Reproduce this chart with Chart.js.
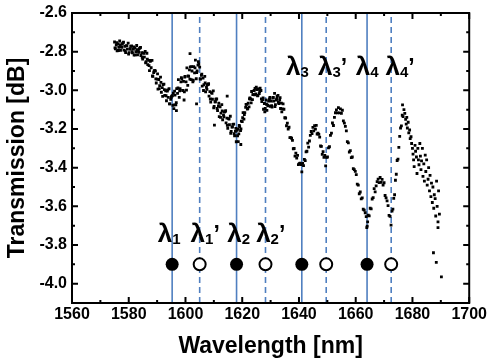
<!DOCTYPE html>
<html>
<head>
<meta charset="utf-8">
<script src="https://cdn.jsdelivr.net/npm/chart.js@4.4.1/dist/chart.umd.min.js"></script>
<style>
  html, body { margin: 0; padding: 0; background: #fff; }
</style>
</head>
<body>
<canvas id="chart" width="491" height="361"></canvas>
<script>
var wlA = [1575.0,1575.3,1575.6,1575.9,1576.2,1576.5,1576.8,1577.1,1577.4,1577.7,
  1578.0,1578.3,1578.6,1578.9,1579.2,1579.5,1579.8,1580.1,1580.4,1580.7,
  1581.0,1581.3,1581.6,1581.9,1582.2,1582.5,1582.8,1583.1,1583.4,1583.7,
  1584.0,1584.3,1584.6,1584.9,1585.2,1585.5,1585.8,1586.1];
var trA = [-2.750,-2.785,-2.766,-2.796,-2.760,-2.777,-2.745,-2.793,-2.774,-2.759,
  -2.755,-2.792,-2.773,-2.805,-2.769,-2.787,-2.756,-2.805,-2.787,-2.773,
  -2.770,-2.806,-2.787,-2.818,-2.782,-2.800,-2.768,-2.817,-2.798,-2.784,
  -2.780,-2.820,-2.805,-2.839,-2.806,-2.828,-2.799,-2.852];

var wlB = [1586.4,1586.7,1587.0,1587.3,1587.6,1587.9,1588.2,1588.5,1588.8,1589.1,
  1589.4,1589.7,1590.0,1590.3,1590.6,1590.9,1591.2,1591.5,1591.8,1592.1,
  1592.4,1592.7,1593.0,1593.3,1593.6,1593.9,1594.2,1594.5,1594.8,1595.1,
  1595.4];
var trB = [-2.808,-2.867,-2.845,-2.898,-2.850,-2.883,-2.845,-2.928,-2.908,-2.897,
  -2.899,-2.962,-2.942,-2.994,-2.944,-2.976,-2.932,-3.010,-2.986,-2.970,
  -2.968,-3.026,-3.002,-3.054,-3.004,-3.036,-2.992,-3.070,-3.046,-3.030,
  -3.028];

var wlC = [1595.7,1596.0,1596.3,1596.6,1596.9,1597.2,1597.5,1597.8,1598.1,1598.4,
  1598.7,1599.0,1599.3,1599.6,1599.9,1600.2,1600.5,1600.8,1601.1,1601.4,
  1601.7,1602.0,1602.3,1602.6,1602.9,1603.2,1603.5,1603.8,1604.1,1604.4,
  1604.7,1601.6,1603.9,1599.5,1595.9,1596.8];
var trC = [-3.015,-3.075,-3.025,-3.075,-2.991,-3.016,-2.945,-3.036,-2.991,-2.956,
  -2.941,-3.000,-2.954,-3.008,-2.928,-2.956,-2.884,-2.974,-2.928,-2.894,
  -2.879,-2.945,-2.900,-2.956,-2.877,-2.910,-2.844,-2.940,-2.900,-2.870,
  -2.865,-2.810,-3.070,-3.050,-3.095,-3.105];

var wlD = [1605.0,1605.3,1605.6,1605.9,1606.2,1606.5,1606.8,1607.1,1607.4,1607.7,
  1608.0,1608.3,1608.6,1608.9,1609.2,1609.5,1609.8,1610.1,1610.4,1610.7,
  1611.0,1611.3,1611.6,1611.9,1612.2,1612.5,1612.8,1613.1,1613.4,1613.7,
  1614.0,1614.3,1614.6,1614.9,1615.2,1615.5,1615.8,1616.1,1616.4,1616.7,
  1617.0,1617.3,1617.6,1617.9,1618.2,1614.7,1610.2];
var trD = [-2.880,-2.942,-2.922,-2.978,-2.937,-2.971,-2.928,-3.008,-2.985,-2.971,
  -2.970,-3.030,-3.007,-3.061,-3.012,-3.046,-3.003,-3.083,-3.060,-3.046,
  -3.045,-3.105,-3.082,-3.136,-3.086,-3.118,-3.074,-3.152,-3.128,-3.112,
  -3.110,-3.168,-3.144,-3.196,-3.146,-3.178,-3.134,-3.213,-3.190,-3.176,
  -3.175,-3.235,-3.212,-3.266,-3.207,-3.030,-3.180];

var wlE = [1618.5,1618.8,1619.1,1619.4,1619.7,1620.0,1620.3,1620.6,1620.9,1621.2,
  1621.5,1621.8,1622.1,1622.4,1622.7,1623.0,1623.3,1623.6,1623.9,1624.2,
  1624.5,1624.8,1625.1,1625.4,1625.7,1626.0,1626.3,1618.6,1619.5];
var trE = [-3.200,-3.225,-3.188,-3.208,-3.159,-3.162,-3.115,-3.149,-3.115,-3.088,
  -3.073,-3.097,-3.067,-3.086,-3.039,-3.045,-3.006,-3.048,-3.022,-3.001,
  -2.990,-3.019,-2.996,-3.028,-2.993,-3.017,-2.989,-3.265,-3.280];

var wlF = [1626.6,1626.9,1627.2,1627.5,1627.8,1628.1,1628.4,1628.7,1629.0,1629.3,
  1629.6,1629.9,1630.2,1630.5,1630.8,1631.1,1631.4,1631.7,1632.0,1632.3,
  1632.6,1632.9,1633.2,1633.5,1633.8,1634.1,1634.4];
var trF = [-3.001,-3.058,-3.048,-3.098,-3.068,-3.094,-3.050,-3.104,-3.077,-3.055,
  -3.045,-3.083,-3.055,-3.087,-3.039,-3.056,-3.016,-3.074,-3.050,-3.032,
  -3.026,-3.068,-3.050,-3.094,-3.066,-3.096,-3.070];

var wlG = [1634.7,1635.0,1635.3,1635.6,1635.9,1636.2,1636.5,1636.8,1637.1,1637.4,
  1637.7,1638.0,1638.3,1638.6,1638.9,1639.2,1639.5,1639.8,1640.1,1640.4,
  1640.7,1641.0];
var trG = [-3.098,-3.142,-3.143,-3.183,-3.170,-3.200,-3.191,-3.245,-3.245,-3.248,
  -3.259,-3.302,-3.301,-3.340,-3.325,-3.351,-3.336,-3.384,-3.379,-3.377,
  -3.384,-3.422];

var wlH = [1641.3,1641.6,1641.9,1642.2,1642.5,1642.8,1643.1,1643.4,1643.7,1644.0,
  1644.3,1644.6,1644.9,1645.2,1645.5,1645.8,1646.1,1646.4,1646.7,1647.0,
  1647.3,1647.6,1647.9,1648.2,1648.5,1648.8,1649.1,1649.4];
var trH = [-3.378,-3.389,-3.357,-3.364,-3.318,-3.315,-3.273,-3.294,-3.262,-3.233,
  -3.213,-3.224,-3.192,-3.210,-3.183,-3.201,-3.181,-3.226,-3.222,-3.228,
  -3.242,-3.288,-3.290,-3.331,-3.317,-3.347,-3.337,-3.391];

var wlI = [1649.7,1650.05,1650.4,1650.75,1651.1,1651.45,1651.8,1652.15,1652.5,1652.85,
  1653.2,1653.55,1653.9,1654.25,1654.6,1654.95,1655.3,1655.65,1656.0,1656.35,
  1656.7,1657.05,1657.4,1657.75,1658.1,1658.45,1658.8,1659.15,1659.5,1659.85,
  1660.2,1660.55,1660.9,1661.25,1661.6,1661.95,1662.3,1662.65,1663.0,1663.35,
  1663.7,1664.05,1663.9,1664.2];
var trI = [-3.347,-3.345,-3.298,-3.292,-3.233,-3.221,-3.169,-3.182,-3.140,-3.116,
  -3.101,-3.117,-3.089,-3.117,-3.096,-3.119,-3.103,-3.158,-3.170,-3.186,
  -3.210,-3.265,-3.272,-3.319,-3.312,-3.348,-3.345,-3.405,-3.410,-3.419,
  -3.436,-3.485,-3.490,-3.535,-3.526,-3.561,-3.556,-3.615,-3.620,-3.633,
  -3.653,-3.702,-3.710,-3.680];

var wlJ = [1664.4,1664.75,1665.1,1665.45,1665.8,1666.15,1666.5,1666.85,1667.2,1667.55,
  1667.9,1668.25,1668.6,1668.95,1669.3,1669.65,1670.0,1670.35,1670.7,1671.05,
  1671.4,1671.75,1672.1,1672.45];
var trJ = [-3.646,-3.649,-3.610,-3.613,-3.562,-3.555,-3.508,-3.525,-3.494,-3.472,
  -3.459,-3.477,-3.451,-3.476,-3.461,-3.490,-3.478,-3.544,-3.556,-3.572,
  -3.596,-3.647,-3.652,-3.697];

var wlK = [1672.8,1673.1,1673.4,1673.7,1674.0,1674.3,1674.6,1674.9,1675.2,1675.5,
  1675.8,1676.1,1676.4,1676.7,1677.0,1677.3,1676.5];
var trK = [-3.625,-3.614,-3.559,-3.540,-3.465,-3.434,-3.363,-3.356,-3.295,-3.238,
  -3.195,-3.184,-3.129,-3.136,-3.100,-3.119,-3.075];

var wlL = [1677.6,1677.8,1678.0,1678.2,1678.5,1678.7,1679.0,1679.2,1679.5,1679.7,
  1680.0,1680.2,1680.4,1680.6,1680.9,1681.1,1681.4,1681.6,1681.9,1682.1,
  1682.3,1682.6,1682.8,1683.0,1683.2,1683.5,1683.7,1684.0,1684.2,1684.5,
  1684.7,1685.0,1685.2,1685.5,1685.7,1686.0,1686.2,1686.5,1686.7,1687.0,
  1687.2,1687.5,1687.7,1688.0,1688.2,1688.5,1688.7,1689.0,1689.2,1689.5,
  1689.0,1687.4,1688.4,1690.2];
var trL = [-3.150,-3.175,-3.140,-3.195,-3.165,-3.220,-3.205,-3.250,-3.240,-3.275,
  -3.300,-3.330,-3.360,-3.395,-3.285,-3.315,-3.345,-3.430,-3.300,-3.360,
  -3.385,-3.275,-3.340,-3.410,-3.365,-3.300,-3.445,-3.380,-3.470,-3.335,
  -3.420,-3.360,-3.490,-3.460,-3.400,-3.520,-3.440,-3.550,-3.480,-3.580,
  -3.500,-3.610,-3.540,-3.560,-3.650,-3.470,-3.600,-3.680,-3.520,-3.640,
  -3.710,-3.840,-3.890,-3.965];

// extra points in the dense band 1575-1634 nm
var wlM = [1575.15,1575.75,1576.35,1576.95,1577.55,1578.15,1578.75,1579.35,1579.95,1580.55,
  1581.15,1581.75,1582.35,1582.95,1583.55,1584.15,1584.75,1585.35,1585.95,1586.55,
  1587.15,1587.75,1588.35,1588.95,1589.55,1590.15,1590.75,1591.35,1591.95,1592.55,
  1593.15,1593.75,1594.35,1594.95,
  1595.55,1596.15,1596.75,1597.35,1597.95,1598.55,1599.15,1599.75,1600.35,1600.95,
  1601.55,1602.15,1602.75,1603.35,1603.95,1604.55];
var trM = [-2.780,-2.753,-2.794,-2.765,-2.778,-2.751,-2.796,-2.770,-2.813,-2.785,
  -2.800,-2.775,-2.817,-2.789,-2.803,-2.778,-2.829,-2.809,-2.858,-2.839,
  -2.872,-2.845,-2.926,-2.902,-2.941,-2.915,-2.991,-2.959,-3.031,-2.996,
  -3.028,-2.998,-3.070,-3.037,
  -3.078,-3.004,-3.064,-2.988,-3.002,-2.934,-3.001,-2.931,-2.999,-2.925,
  -2.942,-2.877,-2.948,-2.884,-2.908,-2.852];

var wlN = [1605.15,1605.75,1606.35,1606.95,1607.55,1608.15,1608.75,1609.35,1609.95,1610.55,
  1611.15,1611.75,1612.35,1612.95,1613.55,1614.15,1614.75,1615.35,1615.95,1616.55,
  1617.15,1617.75,
  1618.35,1618.95,1619.55,1620.15,1620.75,1621.35,1621.95,1622.55,1623.15,1623.75,
  1624.35,1624.95,1625.55,1626.15,
  1626.75,1627.35,1627.95,1628.55,1629.15,1629.75,1630.35,1630.95,1631.55,1632.15,
  1632.75,1633.35,1633.95];
var trN = [-2.941,-2.917,-3.001,-2.962,-2.995,-2.966,-3.045,-3.016,-3.091,-3.059,
  -3.094,-3.067,-3.140,-3.107,-3.137,-3.105,-3.181,-3.149,-3.222,-3.189,
  -3.224,-3.197,
  -3.235,-3.182,-3.199,-3.142,-3.126,-3.073,-3.094,-3.044,-3.065,-3.022,
  -3.023,-2.984,-3.026,-3.006,
  -3.044,-3.039,-3.111,-3.072,-3.080,-3.037,-3.079,-3.037,-3.084,-3.046,
  -3.062,-3.038,-3.111];

// resonance positions (solid lines / filled dots and dashed lines / open dots)
var resonance = [1595.3, 1618.0, 1641.0, 1664.0];
var resonancePrime = [1605.0, 1628.2, 1649.6, 1672.5];
var markerLevel = -3.9;

// lambda labels: left edge (nm), baseline (dB), subscript, prime
var labelX = [1590.2, 1601.8, 1614.7, 1624.9, 1635.4, 1646.7, 1660.0, 1670.5];
var labelY = [-3.785, -3.785, -3.785, -3.785, -2.92, -2.92, -2.92, -2.92];
var labelSub = ["1", "1", "2", "2", "3", "3", "4", "4"];
var labelPrime = [false, true, false, true, false, true, false, true];

// axes
var xTicks = [1560, 1580, 1600, 1620, 1640, 1660, 1680, 1700];
var xMinor = [1570, 1590, 1610, 1630, 1650, 1670, 1690];
var yTicks = [-4.0, -3.8, -3.6, -3.4, -3.2, -3.0, -2.8, -2.6];
var yMinor = [-3.9, -3.7, -3.5, -3.3, -3.1, -2.9, -2.7];
var xMin = 1560, xMax = 1700, yMin = -4.1, yMax = -2.6;

var FONT = "'Liberation Sans', Arial, sans-serif";
var BLUE = "#4f7fc0";

var wavelength = [].concat(wlA, wlB, wlC, wlD, wlE, wlF, wlG, wlH, wlI, wlJ, wlK, wlL, wlM, wlN);
var transmission = [].concat(trA, trB, trC, trD, trE, trF, trG, trH, trI, trJ, trK, trL, trM, trN);

var spectrum = wavelength.map(function (w, i) {
  return { x: w, y: transmission[i] };
});

// vertical guide lines
var guideSets = [];
resonance.forEach(function (w) {
  guideSets.push({
    data: [{ x: w, y: yMin }, { x: w, y: yMax }],
    showLine: true, borderColor: BLUE, borderWidth: 1.6,
    pointRadius: 0, order: 3
  });
});
resonancePrime.forEach(function (w) {
  guideSets.push({
    data: [{ x: w, y: yMin }, { x: w, y: yMax }],
    showLine: true, borderColor: BLUE, borderWidth: 1.6, borderDash: [6, 4],
    pointRadius: 0, order: 3
  });
});

// lambda text labels drawn at data positions
var lambdaLabels = {
  id: "lambdaLabels",
  afterDatasetsDraw: function (chart) {
    var ctx = chart.ctx;
    var xs = chart.scales.x, ys = chart.scales.y;
    ctx.save();
    ctx.fillStyle = "#000";
    ctx.textAlign = "left";
    ctx.textBaseline = "alphabetic";
    for (var i = 0; i < labelX.length; i++) {
      var px = xs.getPixelForValue(labelX[i]);
      var py = ys.getPixelForValue(labelY[i]);
      ctx.font = "bold 26px " + FONT;
      ctx.fillText("λ", px, py);
      px += ctx.measureText("λ").width;
      ctx.font = "bold 15px " + FONT;
      ctx.fillText(labelSub[i], px, py + 2);
      px += ctx.measureText(labelSub[i]).width;
      if (labelPrime[i]) {
        ctx.font = "bold 23px " + FONT;
        ctx.fillText("\u2019", px, py);
      }
    }
    ctx.restore();
  }
};

// box frame with inward ticks on all four sides
var frameTicks = {
  id: "frameTicks",
  afterDraw: function (chart) {
    var ctx = chart.ctx, a = chart.chartArea;
    var xs = chart.scales.x, ys = chart.scales.y;
    function xt(v, len) {
      var p = xs.getPixelForValue(v);
      ctx.moveTo(p, a.bottom); ctx.lineTo(p, a.bottom - len);
      ctx.moveTo(p, a.top); ctx.lineTo(p, a.top + len);
    }
    function yt(v, len) {
      var p = ys.getPixelForValue(v);
      ctx.moveTo(a.left, p); ctx.lineTo(a.left + len, p);
      ctx.moveTo(a.right, p); ctx.lineTo(a.right - len, p);
    }
    ctx.save();
    ctx.strokeStyle = "#000";
    ctx.lineWidth = 2;
    ctx.beginPath();
    xTicks.forEach(function (v) { xt(v, 6); });
    xMinor.forEach(function (v) { xt(v, 3); });
    yTicks.forEach(function (v) { yt(v, 6); });
    yMinor.forEach(function (v) { yt(v, 3); });
    ctx.stroke();
    ctx.strokeRect(a.left, a.top, a.right - a.left, a.bottom - a.top);
    ctx.restore();
  }
};

var tickFont = { family: FONT, size: 16, weight: "bold", lineHeight: 1 };
var titleFont = { family: FONT, size: 23, weight: "bold", lineHeight: 1 };

new Chart(document.getElementById("chart").getContext("2d"), {
  type: "scatter",
  data: {
    datasets: [
      {
        data: spectrum,
        pointStyle: "rect", pointRadius: 2.0, pointBorderWidth: 0,
        pointBackgroundColor: "#000", order: 2
      },
      {
        data: resonance.map(function (w) { return { x: w, y: markerLevel }; }),
        pointRadius: 6.5, pointBorderWidth: 0, pointBackgroundColor: "#000", order: 1
      },
      {
        data: resonancePrime.map(function (w) { return { x: w, y: markerLevel }; }),
        pointRadius: 6, pointBorderWidth: 2, pointBorderColor: "#000",
        pointBackgroundColor: "#fff", order: 1
      }
    ].concat(guideSets)
  },
  options: {
    responsive: false,
    animation: false,
    events: [],
    layout: { padding: { left: 0, right: 21, top: 9, bottom: 0 } },
    plugins: { legend: { display: false }, tooltip: { enabled: false } },
    scales: {
      x: {
        type: "linear", min: xMin, max: xMax,
        afterBuildTicks: function (s) { s.ticks = xTicks.map(function (v) { return { value: v }; }); },
        afterFit: function (s) { s.height = 58; },
        grid: { display: false, drawTicks: false },
        border: { display: false },
        ticks: {
          color: "#000", font: tickFont, padding: 4, autoSkip: false, maxRotation: 0,
          callback: function (v) { return String(v); }
        },
        title: {
          display: true, text: "Wavelength [nm]", color: "#000",
          font: titleFont, padding: { top: 0, bottom: 3 }
        }
      },
      y: {
        type: "linear", min: yMin, max: yMax,
        afterBuildTicks: function (s) { s.ticks = yTicks.map(function (v) { return { value: v }; }); },
        afterFit: function (s) { s.width = 72; },
        grid: { display: false, drawTicks: false },
        border: { display: false },
        ticks: {
          color: "#000", font: tickFont, padding: 5, autoSkip: false,
          callback: function (v) { return v.toFixed(1); }
        },
        title: {
          display: true, text: "Transmission [dB]", color: "#000",
          font: titleFont, padding: { top: 6, bottom: 0 }
        }
      }
    }
  },
  plugins: [lambdaLabels, frameTicks]
});
</script>
</body>
</html>
